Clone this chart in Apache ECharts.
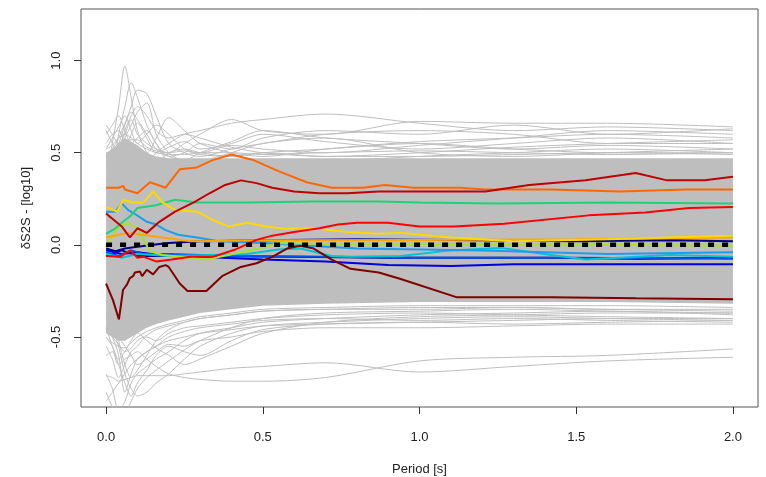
<!DOCTYPE html>
<html>
<head>
<meta charset="utf-8">
<script src="https://cdn.jsdelivr.net/npm/echarts@6/dist/echarts.min.js"></script>
<style>
  html, body { margin: 0; padding: 0; background: #fff; }
  #chart { width: 766px; height: 477px; }
</style>
</head>
<body>
<div id="chart"></div>
<script>
// periods used by the grey station curves
var grayPeriods = [0, 0.02, 0.04, 0.06, 0.08, 0.1, 0.13, 0.16, 0.2, 0.25, 0.3, 0.4, 0.5, 0.7, 1.0, 1.3, 1.6, 2.0];

// dense grey core (lower / upper edge)
var bandLow  = [-0.48, -0.50, -0.52, -0.52, -0.50, -0.48, -0.45, -0.43, -0.41, -0.39, -0.37, -0.35, -0.33, -0.32, -0.31, -0.31, -0.31, -0.32];
var bandHigh = [0.50, 0.52, 0.55, 0.58, 0.56, 0.54, 0.50, 0.48, 0.47, 0.47, 0.47, 0.47, 0.47, 0.47, 0.47, 0.47, 0.47, 0.47];

// grey curves above the core
var grayAbove = [
  [0.35, 0.55, 0.75, 0.97, 0.80, 0.62, 0.50, 0.45, 0.50, 0.52, 0.50, 0.48, 0.50, 0.52, 0.55, 0.52, 0.50, 0.50],
  [0.30, 0.40, 0.60, 0.75, 0.88, 0.80, 0.65, 0.55, 0.45, 0.42, 0.45, 0.50, 0.55, 0.58, 0.50, 0.48, 0.50, 0.52],
  [0.45, 0.50, 0.55, 0.65, 0.75, 0.84, 0.82, 0.70, 0.55, 0.50, 0.48, 0.52, 0.55, 0.60, 0.62, 0.60, 0.55, 0.55],
  [0.40, 0.45, 0.50, 0.58, 0.65, 0.72, 0.77, 0.60, 0.50, 0.45, 0.42, 0.40, 0.42, 0.45, 0.48, 0.50, 0.52, 0.50],
  [0.50, 0.45, 0.40, 0.45, 0.50, 0.52, 0.50, 0.58, 0.69, 0.62, 0.55, 0.50, 0.48, 0.52, 0.56, 0.58, 0.60, 0.58],
  [0.55, 0.60, 0.62, 0.55, 0.50, 0.48, 0.45, 0.50, 0.55, 0.60, 0.62, 0.66, 0.68, 0.71, 0.66, 0.62, 0.64, 0.62],
  [0.65, 0.60, 0.55, 0.60, 0.68, 0.60, 0.55, 0.52, 0.50, 0.55, 0.60, 0.68, 0.62, 0.60, 0.67, 0.66, 0.66, 0.64],
  [0.60, 0.65, 0.70, 0.62, 0.55, 0.58, 0.62, 0.55, 0.48, 0.50, 0.55, 0.52, 0.58, 0.62, 0.60, 0.65, 0.60, 0.63],
  [0.62, 0.55, 0.48, 0.52, 0.60, 0.66, 0.58, 0.50, 0.53, 0.56, 0.52, 0.55, 0.60, 0.56, 0.52, 0.55, 0.58, 0.55],
  [0.52, 0.58, 0.64, 0.70, 0.62, 0.55, 0.60, 0.65, 0.60, 0.52, 0.50, 0.54, 0.52, 0.50, 0.54, 0.58, 0.62, 0.60],
  [0.48, 0.52, 0.58, 0.66, 0.72, 0.68, 0.60, 0.52, 0.48, 0.46, 0.50, 0.56, 0.62, 0.58, 0.55, 0.52, 0.54, 0.52],
  [0.25, 0.35, 0.50, 0.62, 0.70, 0.75, 0.70, 0.62, 0.58, 0.60, 0.58, 0.53, 0.50, 0.48, 0.50, 0.53, 0.55, 0.57],
  [0.52, 0.54, 0.58, 0.60, 0.58, 0.55, 0.52, 0.50, 0.49, 0.49, 0.50, 0.50, 0.49, 0.50, 0.51, 0.50, 0.49, 0.50],
  [0.49, 0.50, 0.53, 0.55, 0.57, 0.57, 0.53, 0.51, 0.50, 0.51, 0.49, 0.48, 0.50, 0.48, 0.48, 0.49, 0.50, 0.49]
];

// grey curves below the core
var grayBelow = [
  [-0.55, -0.62, -0.72, -0.65, -0.58, -0.55, -0.50, -0.52, -0.48, -0.45, -0.44, -0.42, -0.40, -0.38, -0.37, -0.38, -0.39, -0.40],
  [-0.45, -0.50, -0.60, -0.80, -0.70, -0.62, -0.58, -0.55, -0.50, -0.47, -0.45, -0.43, -0.41, -0.40, -0.41, -0.40, -0.41, -0.42],
  [-0.70, -0.78, -0.90, -0.85, -0.75, -0.70, -0.66, -0.62, -0.58, -0.52, -0.48, -0.45, -0.42, -0.40, -0.38, -0.37, -0.36, -0.38],
  [-0.80, -0.88, -0.95, -0.92, -0.85, -0.78, -0.72, -0.68, -0.63, -0.57, -0.52, -0.45, -0.40, -0.37, -0.36, -0.35, -0.36, -0.37],
  [-0.38, -0.45, -0.55, -0.70, -0.78, -0.82, -0.80, -0.75, -0.70, -0.62, -0.55, -0.48, -0.44, -0.42, -0.40, -0.39, -0.40, -0.41],
  [-0.60, -0.58, -0.65, -0.75, -0.82, -0.75, -0.68, -0.60, -0.55, -0.58, -0.60, -0.52, -0.46, -0.43, -0.42, -0.43, -0.42, -0.41],
  [-0.50, -0.55, -0.62, -0.58, -0.52, -0.48, -0.52, -0.56, -0.60, -0.65, -0.62, -0.55, -0.48, -0.42, -0.39, -0.38, -0.37, -0.37],
  [-0.71, -0.72, -0.74, -0.73, -0.72, -0.71, -0.71, -0.71, -0.71, -0.70, -0.69, -0.67, -0.66, -0.64, -0.69, -0.66, -0.63, -0.61],
  [-0.45, -0.55, -0.65, -0.62, -0.60, -0.58, -0.62, -0.66, -0.70, -0.72, -0.73, -0.74, -0.74, -0.72, -0.63, -0.61, -0.60, -0.565],
  [-0.85, -0.80, -0.75, -0.70, -0.65, -0.62, -0.58, -0.55, -0.52, -0.50, -0.48, -0.46, -0.44, -0.43, -0.42, -0.41, -0.40, -0.40],
  [-0.30, -0.40, -0.52, -0.65, -0.72, -0.68, -0.60, -0.52, -0.46, -0.42, -0.40, -0.38, -0.36, -0.35, -0.34, -0.34, -0.35, -0.36],
  [-0.40, -0.45, -0.50, -0.55, -0.60, -0.65, -0.62, -0.58, -0.54, -0.55, -0.52, -0.50, -0.47, -0.45, -0.45, -0.44, -0.43, -0.43],
  [-0.50, -0.53, -0.55, -0.56, -0.53, -0.50, -0.47, -0.45, -0.43, -0.41, -0.39, -0.37, -0.35, -0.34, -0.33, -0.33, -0.33, -0.34],
  [-0.46, -0.50, -0.54, -0.58, -0.56, -0.52, -0.49, -0.46, -0.44, -0.42, -0.40, -0.38, -0.36, -0.35, -0.35, -0.34, -0.35, -0.35]
];

// highlighted stations, [period, dS2S]
var lineDarkRed = [[0,-0.21],[0.022,-0.30],[0.041,-0.405],[0.054,-0.245],[0.067,-0.215],[0.076,-0.18],[0.086,-0.17],[0.092,-0.15],[0.108,-0.145],[0.115,-0.17],[0.13,-0.135],[0.15,-0.16],[0.17,-0.12],[0.19,-0.11],[0.2,-0.12],[0.235,-0.21],[0.26,-0.25],[0.32,-0.25],[0.37,-0.17],[0.43,-0.12],[0.48,-0.10],[0.53,-0.065],[0.58,-0.018],[0.62,-0.005],[0.66,-0.018],[0.72,-0.08],[0.78,-0.13],[0.87,-0.15],[0.94,-0.185],[1.12,-0.285],[1.42,-0.285],[1.69,-0.29],[2.0,-0.295]];
var lineFirebrick = [[0,0.17],[0.05,0.10],[0.076,0.04],[0.1,0.09],[0.13,0.065],[0.17,0.125],[0.22,0.18],[0.28,0.23],[0.33,0.28],[0.38,0.325],[0.43,0.35],[0.48,0.335],[0.53,0.31],[0.6,0.29],[0.68,0.28],[0.77,0.28],[0.87,0.29],[1.0,0.29],[1.21,0.29],[1.35,0.325],[1.53,0.35],[1.69,0.39],[1.79,0.35],[1.91,0.35],[2.0,0.37]];
var lineRed = [[0,-0.06],[0.045,-0.065],[0.077,-0.03],[0.1,-0.07],[0.12,-0.065],[0.16,-0.09],[0.21,-0.08],[0.27,-0.065],[0.34,-0.065],[0.41,-0.027],[0.48,0.027],[0.53,0.05],[0.6,0.07],[0.68,0.09],[0.74,0.11],[0.8,0.12],[0.9,0.12],[1.0,0.10],[1.11,0.10],[1.27,0.115],[1.54,0.16],[1.72,0.175],[1.86,0.20],[2.0,0.205]];
var lineOrangeRed = [[0,0.31],[0.04,0.31],[0.055,0.32],[0.06,0.30],[0.1,0.28],[0.14,0.34],[0.19,0.31],[0.235,0.41],[0.29,0.42],[0.34,0.46],[0.4,0.49],[0.47,0.46],[0.55,0.40],[0.64,0.34],[0.72,0.31],[0.82,0.31],[0.89,0.325],[0.98,0.31],[1.13,0.31],[1.21,0.30],[1.42,0.30],[1.64,0.29],[1.85,0.30],[2.0,0.30]];
var lineOrange = [[0,0.04],[0.07,0.065],[0.18,0.04],[0.27,0.02],[0.5,0.025],[1.0,0.027],[1.5,0.03],[2.0,0.04]];
var lineYellow = [[0,0.205],[0.035,0.18],[0.055,0.245],[0.085,0.23],[0.12,0.23],[0.15,0.29],[0.18,0.23],[0.22,0.19],[0.29,0.18],[0.34,0.135],[0.39,0.10],[0.45,0.12],[0.51,0.10],[0.57,0.087],[0.66,0.09],[0.77,0.07],[0.87,0.06],[0.94,0.065],[1.1,0.04],[1.3,0.02],[1.6,0.03],[1.8,0.04],[2.0,0.05]];
var lineLime = [[0,-0.01],[0.035,0.09],[0.07,0.12],[0.1,0.09],[0.14,-0.035],[0.18,-0.055],[0.27,-0.07],[0.32,-0.08],[0.39,-0.055],[0.51,-0.01],[0.55,0.01],[0.8,0.0],[1.2,0.0],[1.6,0.0],[2.0,-0.005]];
var lineSpring = [[0,0.06],[0.03,0.09],[0.05,0.12],[0.08,0.16],[0.1,0.20],[0.16,0.215],[0.22,0.245],[0.29,0.23],[0.45,0.23],[0.66,0.235],[0.87,0.235],[1.0,0.23],[1.25,0.225],[1.6,0.23],[2.0,0.225]];
var lineCyan = [[0,-0.05],[0.05,-0.07],[0.1,-0.05],[0.2,-0.06],[0.45,-0.05],[0.55,-0.025],[0.62,-0.02],[0.72,-0.06],[0.78,-0.065],[0.94,-0.06],[1.1,-0.03],[1.26,-0.017],[1.42,-0.055],[1.53,-0.08],[1.8,-0.055],[2.0,-0.065]];
var lineSky = [[0,0.18],[0.03,0.18],[0.05,0.225],[0.07,0.19],[0.09,0.17],[0.13,0.125],[0.16,0.11],[0.19,0.08],[0.23,0.055],[0.29,0.04],[0.36,0.02],[0.5,0.01],[0.8,-0.02],[1.2,-0.03],[1.6,-0.05],[2.0,-0.04]];
var lineBlue = [[0,-0.04],[0.04,-0.06],[0.08,-0.03],[0.12,-0.05],[0.2,-0.05],[0.4,-0.06],[0.7,-0.065],[1.0,-0.07],[1.5,-0.07],[2.0,-0.075]];
var lineBlue2 = [[0,-0.03],[0.05,-0.05],[0.1,-0.04],[0.2,-0.06],[0.3,-0.065],[0.5,-0.08],[0.7,-0.09],[0.9,-0.11],[1.1,-0.115],[1.3,-0.105],[1.6,-0.105],[2.0,-0.105]];
var lineNavy = [[0,-0.02],[0.03,-0.035],[0.06,-0.02],[0.1,-0.01],[0.15,0.0],[0.2,0.01],[0.3,0.02],[0.5,0.025],[0.8,0.03],[1.2,0.025],[1.5,0.02],[1.8,0.025],[2.0,0.02]];
var lineNavy2 = [[0,-0.06],[0.05,-0.03],[0.1,-0.06],[0.3,-0.06],[0.6,-0.065],[0.9,-0.07],[1.4,-0.07],[1.7,-0.075],[2.0,-0.07]];

// mean of all stations
var meanLine = [[0,0],[2,0]];

var tickValues = [0, 0.5, 1, 1.5, 2];
var yTickValues = [-0.5, 0, 0.5, 1];

function pairs(ps, vs) {
    var out = [];
    for (var i = 0; i < ps.length; i++) out.push([ps[i], vs[i]]);
    return out;
}

var bandData = grayPeriods.map(function (p, i) { return [p, bandLow[i], bandHigh[i]]; });

var series = [];
// grey core drawn as one polygon through the axis scales
series.push({
    type: 'custom', coordinateSystem: 'cartesian2d', data: bandData,
    encode: { x: 0, y: [1, 2] }, silent: true, clip: true,
    renderItem: function (params, api) {
        if (params.dataIndex !== 0) return;
        var top = [], bot = [];
        for (var i = 0; i < bandData.length; i++) {
            top.push(api.coord([bandData[i][0], bandData[i][2]]));
            bot.unshift(api.coord([bandData[i][0], bandData[i][1]]));
        }
        return { type: 'polygon', shape: { points: top.concat(bot) }, style: { fill: '#bebebe' } };
    }
});
grayAbove.concat(grayBelow).forEach(function (vals) {
    series.push({
        type: 'line', data: pairs(grayPeriods, vals), showSymbol: false, smooth: 0.3,
        lineStyle: { color: '#bebebe', width: 1 }, silent: true
    });
});

var coloured = [
    [lineNavy, '#00008b'], [lineNavy2, '#000080'], [lineBlue2, '#0000dd'], [lineBlue, '#0050f0'],
    [lineCyan, '#00c4d4'], [lineSky, '#1e9cf0'], [lineLime, '#a8e030'], [lineSpring, '#1ed27a'],
    [lineOrange, '#ffa500'], [lineYellow, '#ffd800'], [lineRed, '#ff0000'], [lineOrangeRed, '#ff6600'],
    [lineFirebrick, '#c00000'], [lineDarkRed, '#7f0000']
];
coloured.forEach(function (c) {
    series.push({
        type: 'line', data: c[0], showSymbol: false,
        lineStyle: { color: c[1], width: 2 }, silent: true
    });
});
series.push({
    type: 'line', data: meanLine, showSymbol: false,
    lineStyle: { color: '#000', width: 4.5, type: [6, 8], cap: 'butt' }, silent: true
});

var myChart = echarts.init(document.getElementById('chart'));
myChart.setOption({
    animation: false,
    grid: { left: 81, right: 8, top: 9, bottom: 70, show: true, borderColor: '#555', borderWidth: 1, outerBoundsMode: 'none' },
    xAxis: {
        type: 'value', min: -0.08, max: 2.08,
        name: 'Period [s]', nameLocation: 'middle', nameGap: 56,
        nameTextStyle: { fontFamily: 'Liberation Sans', fontSize: 13, color: '#222' },
        axisLine: { show: false, onZero: false },
        splitLine: { show: false },
        axisTick: { show: true, length: 7, customValues: tickValues, lineStyle: { color: '#333' } },
        axisLabel: {
            customValues: tickValues, margin: 24, fontFamily: 'Liberation Sans', fontSize: 13, color: '#222',
            formatter: function (v) { return v.toFixed(1); }
        }
    },
    yAxis: {
        type: 'value', min: -0.88, max: 1.28,
        name: 'δS2S - [log10]', nameLocation: 'middle', nameGap: 48,
        nameTextStyle: { fontFamily: 'Liberation Sans', fontSize: 13, color: '#222' },
        axisLine: { show: false, onZero: false },
        splitLine: { show: false },
        axisTick: { show: true, length: 7, customValues: yTickValues, lineStyle: { color: '#333' } },
        axisLabel: {
            customValues: yTickValues, rotate: 90, margin: 18, fontFamily: 'Liberation Sans', fontSize: 13, color: '#222',
            formatter: function (v) { return v.toFixed(1); }
        }
    },
    series: series
});
</script>
</body>
</html>
